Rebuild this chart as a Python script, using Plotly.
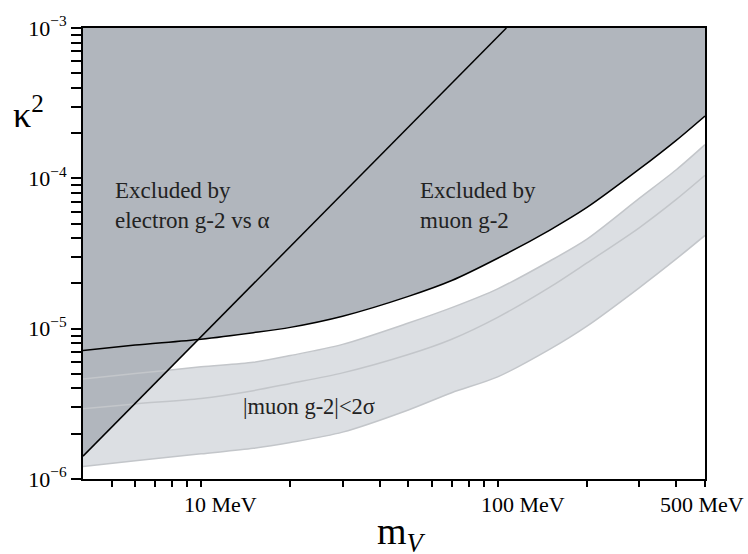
import math
import plotly.graph_objects as go

# ---------------- data ----------------
mass = [4, 6, 10, 15, 20, 30, 50, 70, 100, 150, 200, 300, 400, 500]  # MeV
muon_excl = [7.17e-6, 7.78e-6, 8.51e-6, 9.4e-6, 1.02e-5, 1.21e-5, 1.64e-5,
             2.09e-5, 2.94e-5, 4.53e-5, 6.4e-5, 1.15e-4, 1.79e-4, 2.60e-4]
band_upper = [4.62e-6, 5.03e-6, 5.57e-6, 5.97e-6, 6.62e-6, 7.86e-6, 1.09e-5,
              1.38e-5, 1.84e-5, 2.82e-5, 3.94e-5, 7.35e-5, 1.14e-4, 1.675e-4]
band_mid = [2.93e-6, 3.16e-6, 3.43e-6, 3.87e-6, 4.32e-6, 5.08e-6, 6.73e-6,
            8.51e-6, 1.19e-5, 1.89e-5, 2.74e-5, 4.69e-5, 7.24e-5, 1.047e-4]
band_lower = [1.21e-6, 1.32e-6, 1.47e-6, 1.60e-6, 1.75e-6, 2.05e-6, 2.88e-6,
              3.75e-6, 4.78e-6, 7.31e-6, 1.04e-5, 1.87e-5, 2.91e-5, 4.17e-5]
electron_mass = [4, 107]
electron_k2 = [1.42e-6, 1.0e-3]

x_range = [4, 500]
y_range = [1e-6, 1e-3]

x_major_vals = [10, 100, 500]
x_major_text = ["10 MeV", "100 MeV", "500 MeV"]
x_minor_vals = [5, 6, 7, 8, 9, 20, 30, 40, 50, 60, 70, 80, 90, 200, 300, 400]
y_major_vals = [1e-6, 1e-5, 1e-4, 1e-3]
y_major_text = ["10<sup>\u22126</sup>", "10<sup>\u22125</sup>",
                "10<sup>\u22124</sup>", "10<sup>\u22123</sup>"]
y_minor_vals = [m * 10.0 ** e for e in (-6, -5, -4) for m in range(2, 10)]

# ---------------- style ----------------
FONT = "Liberation Serif"
DARK = "#b1b6bd"
LIGHT = "#dcdfe3"
BAND_LINE = "#c3c6ca"
SMOOTH = 0.8
x_label_shift = [-19, -19, -47]

top_line = [y_range[1]] * len(mass)

fig = go.Figure()

# light band (muon g-2 favoured) fill
fig.add_trace(go.Scatter(x=mass, y=band_lower, mode="lines",
                         line=dict(width=0, color=LIGHT, shape="spline", smoothing=SMOOTH),
                         hoverinfo="skip", showlegend=False))
fig.add_trace(go.Scatter(x=mass, y=band_upper, mode="lines", fill="tonexty",
                         fillcolor=LIGHT,
                         line=dict(width=0, color=LIGHT, shape="spline", smoothing=SMOOTH),
                         hoverinfo="skip", showlegend=False))

# dark excluded region: above electron line
fig.add_trace(go.Scatter(
    x=electron_mass + [electron_mass[0]], y=electron_k2 + [y_range[1]],
    fill="toself", fillcolor=DARK, mode="lines",
    line=dict(width=0, color=DARK), hoverinfo="skip", showlegend=False))
# dark excluded region: above muon g-2 curve
fig.add_trace(go.Scatter(x=mass, y=muon_excl, mode="lines",
                         line=dict(width=0, color=DARK, shape="spline", smoothing=SMOOTH),
                         hoverinfo="skip", showlegend=False))
fig.add_trace(go.Scatter(x=mass, y=top_line, mode="lines", fill="tonexty",
                         fillcolor=DARK, line=dict(width=0, color=DARK),
                         hoverinfo="skip", showlegend=False))

# band edge lines
for ys in (band_upper, band_mid, band_lower):
    fig.add_trace(go.Scatter(x=mass, y=ys, mode="lines",
                             line=dict(color=BAND_LINE, width=1.5,
                                       shape="spline", smoothing=SMOOTH),
                             hoverinfo="skip", showlegend=False))

# black boundary lines
fig.add_trace(go.Scatter(x=mass, y=muon_excl, mode="lines",
                         line=dict(color="black", width=1.5,
                                   shape="spline", smoothing=SMOOTH),
                         showlegend=False))
fig.add_trace(go.Scatter(x=electron_mass, y=electron_k2, mode="lines",
                         line=dict(color="black", width=1.5),
                         showlegend=False))

tick_style = dict(ticks="outside", tickwidth=2, tickcolor="black")
fig.update_xaxes(
    type="log", range=[math.log10(x_range[0]), math.log10(x_range[1])],
    tickmode="array", tickvals=x_major_vals, showticklabels=False,
    ticklen=6, **tick_style,
    minor=dict(tickmode="array", tickvals=x_minor_vals, ticklen=6,
               showgrid=False, **tick_style),
    showline=True, linecolor="black", linewidth=2, mirror=True,
    showgrid=False, zeroline=False)
fig.update_yaxes(
    type="log", range=[math.log10(y_range[0]), math.log10(y_range[1])],
    tickmode="array", tickvals=y_major_vals, ticktext=y_major_text,
    ticklen=10, **tick_style,
    minor=dict(tickmode="array", tickvals=y_minor_vals, ticklen=10,
               showgrid=False, **tick_style),
    tickfont=dict(family=FONT, size=22, color="black"),
    showline=True, linecolor="black", linewidth=2, mirror=True,
    showgrid=False, zeroline=False)

annotations = []
for v, t, s in zip(x_major_vals, x_major_text, x_label_shift):
    annotations.append(dict(x=math.log10(v), xref="x", y=0, yref="paper",
                            text=t, showarrow=False, xanchor="left",
                            yanchor="top", xshift=s, yshift=-11,
                            font=dict(family=FONT, size=22, color="black")))

txt_font = dict(family=FONT, size=23, color="#222222")
annotations += [
    dict(x=0.0487, y=0.606, xref="paper", yref="paper", xanchor="left",
         yanchor="middle", align="left", showarrow=False,
         text="Excluded by<br>electron g-2 vs \u03b1", font=txt_font),
    dict(x=0.539, y=0.606, xref="paper", yref="paper", xanchor="left",
         yanchor="middle", align="left", showarrow=False,
         text="Excluded by<br>muon g-2", font=txt_font),
    dict(x=0.2545, y=0.16, xref="paper", yref="paper", xanchor="left",
         yanchor="middle", align="left", showarrow=False,
         text="|muon g-2|&lt;2\u03c3", font=dict(family=FONT, size=22.5, color="#222222")),
    dict(x=-0.115, y=0.813, xref="paper", yref="paper", xanchor="left",
         yanchor="middle", showarrow=False,
         text="\u03ba<sup>2</sup>", font=dict(family=FONT, size=36, color="black")),
    dict(x=0.512, y=-0.122, xref="paper", yref="paper", xanchor="center",
         yanchor="middle", showarrow=False,
         text="m<sub><i>V</i></sub>", font=dict(family=FONT, size=38, color="black")),
]

fig.update_layout(
    width=748, height=554,
    margin=dict(l=83, r=43, t=24, b=75),
    paper_bgcolor="white", plot_bgcolor="white",
    annotations=annotations, showlegend=False)

fig.write_html("out.html", config={"displayModeBar": False},
               post_script="document.body.style.margin='0';"
                           "document.body.style.overflow='hidden';")
